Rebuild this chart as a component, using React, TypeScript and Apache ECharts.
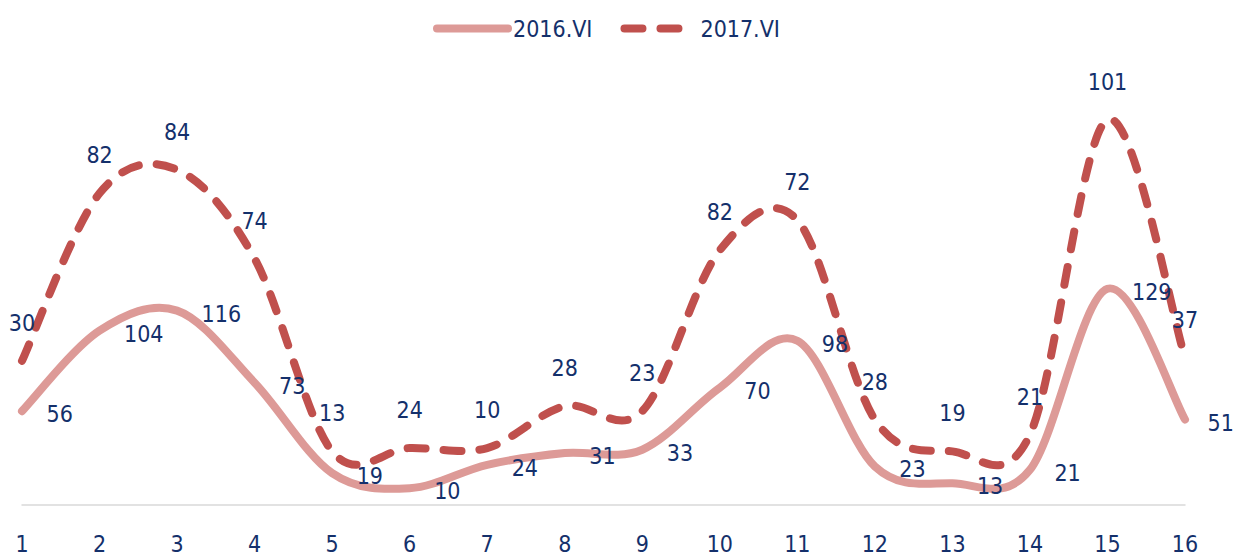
import React, { useEffect, useRef } from "react";
import * as echarts from "echarts";

const categories = ["1", "2", "3", "4", "5", "6", "7", "8", "9", "10", "11", "12", "13", "14", "15", "16"];
const series2016 = [56, 104, 116, 73, 19, 10, 24, 31, 33, 70, 98, 23, 13, 21, 129, 51];
const series2017 = [30, 82, 84, 74, 13, 24, 10, 28, 23, 82, 72, 28, 19, 21, 101, 37];
const seriesNames = ["2016.VI", "2017.VI"];

const FONT = "DejaVu Sans Condensed";
const LABEL_COLOR = "#14306b";
const C2016 = "#dd9a97";
const C2017 = "#c0504d";
const DASH = [18, 18];

// stacked totals (the chart stacks 2017 on top of 2016)
const stacked2017 = series2016.map((v, i) => v + series2017[i]);

function catmullPath(pts: number[][]): string {
  if (!pts.length) return "";
  let d = `M${pts[0][0]},${pts[0][1]}`;
  for (let i = 0; i < pts.length - 1; i++) {
    const p0 = pts[i - 1] || pts[i];
    const p1 = pts[i];
    const p2 = pts[i + 1];
    const p3 = pts[i + 2] || pts[i + 1];
    const c1x = p1[0] + (p2[0] - p0[0]) / 6;
    const c1y = p1[1] + (p2[1] - p0[1]) / 6;
    const c2x = p2[0] - (p3[0] - p1[0]) / 6;
    const c2y = p2[1] - (p3[1] - p1[1]) / 6;
    d += ` C${c1x},${c1y} ${c2x},${c2y} ${p2[0]},${p2[1]}`;
  }
  return d;
}

function curveSeries(name: string, values: number[], color: string, dash: number[] | null, z: number) {
  return {
    name,
    type: "custom",
    data: values.map((v, i) => [i, v]),
    z,
    silent: true,
    renderItem: (params: any, api: any) => {
      if (params.dataIndex !== 0) return null;
      const pts = values.map((v, i) => api.coord([i, v]));
      return {
        type: "path",
        shape: { pathData: catmullPath(pts) },
        style: {
          fill: "none",
          stroke: color,
          lineWidth: 8,
          lineCap: "round",
          lineJoin: "round",
          lineDash: dash || undefined,
        },
      };
    },
  };
}

export default function App() {
  const ref = useRef<HTMLDivElement>(null);
  useEffect(() => {
    if (!ref.current) return;
    const chart = echarts.init(ref.current, undefined, { renderer: "svg" });
    const last = series2016.length - 1;
    chart.setOption({
      animation: false,
      backgroundColor: "#ffffff",
      textStyle: { fontFamily: FONT },
      legend: {
        top: 12,
        left: 428,
        itemWidth: 71,
        itemHeight: 16,
        itemGap: 28,
        itemStyle: { opacity: 0 },
        lineStyle: { width: 8, cap: "round", opacity: 1 },
        textStyle: { color: LABEL_COLOR, fontSize: 23, fontFamily: FONT },
        data: seriesNames,
      },
      grid: { left: 22, right: 49, top: 86, bottom: 47 },
      xAxis: {
        type: "category",
        data: categories,
        boundaryGap: false,
        axisLine: { lineStyle: { color: "#d9d9d9", width: 1.5 } },
        axisTick: { show: false },
        axisLabel: { color: LABEL_COLOR, fontSize: 23, fontFamily: FONT, margin: 27 },
      },
      yAxis: {
        type: "value",
        min: 0,
        max: 250,
        show: false,
        splitLine: { show: false },
      },
      series: [
        curveSeries("curve2016", series2016, C2016, null, 1),
        curveSeries("curve2017", stacked2017, C2017, DASH, 2),
        {
          name: seriesNames[0],
          type: "line",
          stack: "total",
          symbol: "circle",
          symbolSize: 1,
          showSymbol: true,
          itemStyle: { color: "transparent", borderWidth: 0 },
          data: series2016.map((v, i) =>
            i === last ? { value: v, label: { distance: 22 } } : v
          ),
          lineStyle: { color: C2016, width: 8, opacity: 0 },
          label: {
            show: true,
            position: "right",
            distance: 24,
            offset: [0, 3],
            color: LABEL_COLOR,
            fontSize: 23,
            fontFamily: FONT,
          },
          z: 5,
        },
        {
          name: seriesNames[1],
          type: "line",
          stack: "total",
          symbol: "circle",
          symbolSize: 1,
          showSymbol: true,
          itemStyle: { color: "transparent", borderWidth: 0 },
          data: series2017,
          lineStyle: { color: C2017, width: 8, type: DASH, opacity: 0 },
          label: {
            show: true,
            position: "top",
            distance: 26,
            color: LABEL_COLOR,
            fontSize: 23,
            fontFamily: FONT,
          },
          z: 5,
        },
      ],
    });
    return () => chart.dispose();
  }, []);
  return (
    <div
      ref={ref}
      style={{ position: "fixed", left: 0, top: 0, width: 1234, height: 555, background: "#fff" }}
    />
  );
}
